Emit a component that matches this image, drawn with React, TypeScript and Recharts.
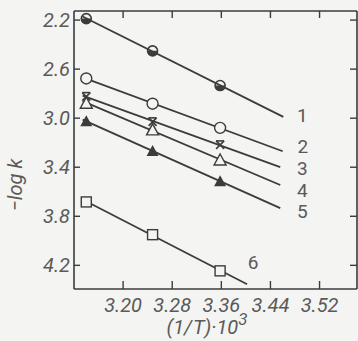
import React from 'react';
import {
  ComposedChart,
  Line,
  Scatter,
  XAxis,
  YAxis,
} from 'recharts';

// 1/T * 10^3 for the three measured temperatures
const invT = [3.14, 3.248, 3.358];

const s1 = [2.188, 2.451, 2.734];
const s2 = [2.676, 2.882, 3.079];
const s3 = [2.824, 3.03, 3.218];
const s4 = [2.878, 3.095, 3.341];
const s5 = [3.025, 3.268, 3.514];
const s6 = [3.683, 3.95, 4.245];

const seriesNames = ['1', '2', '3', '4', '5', '6'];
// x where each fitted line starts / stops
const lineStart = [3.134, 3.134, 3.134, 3.134, 3.134, 3.134];
const lineEnd = [3.461, 3.46, 3.456, 3.456, 3.456, 3.402];

const xTicks = [3.2, 3.28, 3.36, 3.44, 3.52];
const yTicks = [2.2, 2.6, 3.0, 3.4, 3.8, 4.2];

const INK = '#3c3c3c';
const TXT = '#5a5a5a';
const BG = '#f4f4f2';
const FONT = 'Roboto, "DejaVu Sans", sans-serif';

const xDomain = [3.12, 3.581];
const yDomain = [2.126, 4.393];

const allSeries = [s1, s2, s3, s4, s5, s6];

// least squares fit through the measured points
const fit = (ys: number[]) => {
  const n = invT.length;
  const mx = invT.reduce((a, b) => a + b, 0) / n;
  const my = ys.reduce((a, b) => a + b, 0) / n;
  let num = 0;
  let den = 0;
  invT.forEach((x, i) => {
    num += (x - mx) * (ys[i] - my);
    den += (x - mx) * (x - mx);
  });
  const k = num / den;
  return (x: number) => my + k * (x - mx);
};

const points = allSeries.map((ys) => invT.map((x, i) => ({ x, y: ys[i] })));
const lines = allSeries.map((ys, i) => {
  const f = fit(ys);
  return [
    { x: lineStart[i], y: f(lineStart[i]) },
    { x: lineEnd[i], y: f(lineEnd[i]) },
  ];
});

const labelOffset = [
  { dx: 19, dy: -2 },
  { dx: 20, dy: -5 },
  { dx: 22, dy: 1 },
  { dx: 22, dy: 5 },
  { dx: 22, dy: 3 },
  { dx: 6, dy: -22 },
];

const HalfCircle = ({ cx, cy }: any) => (
  <g>
    <path d={`M ${cx - 5} ${cy} A 5 5 0 0 0 ${cx + 5} ${cy} Z`} fill={INK} />
    <circle cx={cx} cy={cy} r={5} fill="none" stroke={INK} strokeWidth={1.6} />
  </g>
);
const OpenCircle = ({ cx, cy }: any) => (
  <circle cx={cx} cy={cy} r={5.5} fill={BG} stroke={INK} strokeWidth={1.4} />
);
const Star = ({ cx, cy }: any) => (
  <g stroke={INK} strokeWidth={1.6}>
    <line x1={cx - 4} y1={cy - 4} x2={cx + 4} y2={cy + 4} />
    <line x1={cx + 4} y1={cy - 4} x2={cx - 4} y2={cy + 4} />
    <line x1={cx - 4} y1={cy - 4} x2={cx + 4} y2={cy - 4} />
  </g>
);
const OpenTri = ({ cx, cy }: any) => (
  <path
    d={`M ${cx} ${cy - 6} L ${cx + 6} ${cy + 5} L ${cx - 6} ${cy + 5} Z`}
    fill={BG}
    stroke={INK}
    strokeWidth={1.4}
  />
);
const FillTri = ({ cx, cy }: any) => (
  <path d={`M ${cx} ${cy - 6} L ${cx + 6} ${cy + 5} L ${cx - 6} ${cy + 5} Z`} fill={INK} />
);
const OpenSquare = ({ cx, cy }: any) => (
  <rect x={cx - 5} y={cy - 5} width={10} height={10} fill={BG} stroke={INK} strokeWidth={1.4} />
);

const shapes = [HalfCircle, OpenCircle, Star, OpenTri, FillTri, OpenSquare];

const tickStyle = { fontSize: 20, fill: TXT, fontFamily: FONT, fontStyle: 'italic' as const };
const numStyle = { fontSize: 19, fill: TXT, fontFamily: FONT };
const axisLine = { stroke: INK, strokeWidth: 1.6 };
const tickLine = { stroke: INK, strokeWidth: 1.4 };
const blank = () => '';

const App = () => {
  return (
    <div style={{ width: 358, height: 341, position: 'relative', background: BG }}>
      <style>{`body{margin:0;background:${BG}}`}</style>
      <ComposedChart
        width={358}
        height={341}
        margin={{ top: 11, right: 1, bottom: 0, left: 0 }}
      >
        {/* inward tick marks on all four sides */}
        <XAxis
          xAxisId="bi"
          type="number"
          dataKey="x"
          domain={xDomain}
          ticks={xTicks}
          tickFormatter={blank}
          mirror
          axisLine={axisLine}
          tickLine={tickLine}
          tickSize={8}
          height={1}
          allowDataOverflow
        />
        <XAxis
          xAxisId="b"
          type="number"
          dataKey="x"
          domain={xDomain}
          ticks={xTicks}
          tickFormatter={(v: number) => v.toFixed(2)}
          tick={tickStyle}
          axisLine={false}
          tickLine={false}
          tickSize={0}
          tickMargin={9}
          height={52}
          allowDataOverflow
        />
        <XAxis
          xAxisId="t"
          orientation="top"
          type="number"
          dataKey="x"
          domain={xDomain}
          ticks={xTicks}
          tickFormatter={blank}
          mirror
          axisLine={axisLine}
          tickLine={tickLine}
          tickSize={7}
          height={1}
          allowDataOverflow
        />
        <YAxis
          yAxisId="li"
          type="number"
          dataKey="y"
          reversed
          domain={yDomain}
          ticks={yTicks}
          tickFormatter={blank}
          mirror
          axisLine={axisLine}
          tickLine={tickLine}
          tickSize={6}
          width={1}
          allowDataOverflow
        />
        <YAxis
          yAxisId="l"
          type="number"
          dataKey="y"
          reversed
          domain={yDomain}
          ticks={yTicks}
          tickFormatter={(v: number) => v.toFixed(1)}
          tick={tickStyle}
          axisLine={false}
          tickLine={false}
          tickSize={0}
          tickMargin={4}
          width={74}
          allowDataOverflow
        />
        <YAxis
          yAxisId="r"
          orientation="right"
          type="number"
          dataKey="y"
          reversed
          domain={yDomain}
          ticks={yTicks}
          tickFormatter={blank}
          mirror
          axisLine={axisLine}
          tickLine={tickLine}
          tickSize={7}
          width={1}
          allowDataOverflow
        />
        {lines.map((d, i) => (
          <Line
            key={`l${i}`}
            xAxisId="b"
            yAxisId="l"
            data={d}
            dataKey="y"
            stroke={INK}
            strokeWidth={1.8}
            dot={false}
            isAnimationActive={false}
            label={(p: any) =>
              p.index === 1 ? (
                <text
                  key={`t${i}`}
                  x={p.x + labelOffset[i].dx}
                  y={p.y + labelOffset[i].dy}
                  dy={7}
                  textAnchor="middle"
                  style={numStyle}
                >
                  {seriesNames[i]}
                </text>
              ) : (
                <g key={`t${i}-${p.index}`} />
              )
            }
          />
        ))}
        {points.map((d, i) => (
          <Scatter
            key={`s${i}`}
            xAxisId="b"
            yAxisId="l"
            data={d}
            shape={shapes[i]}
            isAnimationActive={false}
          />
        ))}
        <text
          x={22}
          y={185}
          transform="rotate(-90 22 185)"
          textAnchor="middle"
          style={tickStyle}
        >
          {'\u2212log k'}
        </text>
        <text x={207} y={334} textAnchor="middle" style={tickStyle}>
          (1/<tspan dx={1}>T</tspan>)·10
          <tspan dy={-9} fontSize={17}>3</tspan>
        </text>
      </ComposedChart>
    </div>
  );
};

export default App;
